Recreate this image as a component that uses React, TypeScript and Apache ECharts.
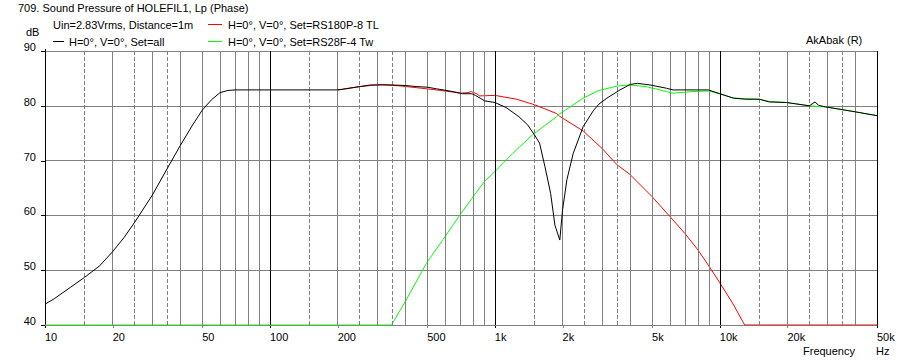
import React, { useEffect, useRef } from "react";
import * as echarts from "echarts";

// ---- data ----
const blackFreq = [10, 11, 12, 13, 15, 17.5, 20, 22.5, 25, 30, 35, 40, 45, 50, 55, 60, 65, 70, 80, 100, 150, 200, 210, 250, 280, 350, 400, 450, 500, 550, 650, 720, 790, 820, 860, 900, 1000, 1120, 1280, 1400, 1500, 1580, 1670, 1770, 1850, 1944, 2000, 2090, 2230, 2470, 2750, 2900, 3150, 3600, 4000, 4300, 4900, 5800, 6200, 8900, 10000, 11500, 13000, 15000, 16600, 19800, 25000, 26500, 27500, 29500, 35000, 40000, 50000];
const blackDb = [43.8, 44.8, 45.9, 46.9, 48.7, 50.8, 53.4, 56.0, 58.7, 63.7, 68.6, 72.8, 76.3, 79.2, 81.1, 82.4, 82.8, 82.9, 82.9, 82.9, 82.9, 82.9, 83.0, 83.5, 83.8, 83.8, 83.7, 83.5, 83.4, 83.1, 82.6, 82.2, 82.2, 81.9, 81.4, 80.9, 80.6, 79.7, 78.0, 76.5, 74.7, 73.2, 68.9, 64.0, 58.2, 55.5, 61.0, 66.5, 71.3, 76.2, 79.2, 80.3, 81.4, 82.9, 83.9, 84.1, 83.8, 83.2, 82.9, 82.9, 82.2, 81.4, 81.2, 81.2, 80.7, 80.6, 80.0, 80.7, 80.1, 79.8, 79.3, 78.9, 78.2];

const redFreq = [200, 250, 313, 385, 472, 551, 653, 700, 760, 785, 830, 857, 1000, 1250, 1500, 1880, 1940, 2470, 3000, 3500, 3980, 4980, 6000, 7000, 8000, 9000, 10000, 11400, 12900, 50000];
const redDb = [82.9, 83.5, 83.9, 83.6, 83.2, 82.9, 82.5, 82.3, 82.4, 82.6, 82.2, 81.8, 81.9, 81.2, 80.2, 78.6, 78.1, 75.4, 72.2, 69.2, 67.5, 63.5, 59.8, 56.7, 53.7, 50.6, 47.7, 44.0, 40.0, 40.0];

const greenFreq = [10, 347, 400, 497, 600, 700, 800, 900, 1000, 1200, 1470, 1550, 1880, 1940, 2470, 2900, 3500, 3980, 4700, 5800, 6200, 7600, 8900, 10000, 11500, 13000, 15000, 16600, 19800, 25000, 29500, 35000, 40000, 50000];
const greenDb = [40, 40, 44.3, 51.3, 56.1, 60.1, 63.4, 66.2, 68.0, 71.3, 74.7, 75.4, 78.0, 78.5, 81.4, 82.8, 83.6, 83.8, 83.5, 82.6, 82.3, 82.6, 82.7, 82.2, 81.4, 81.3, 81.2, 80.8, 80.6, 80.0, 79.8, 79.3, 78.9, 78.2];

const xTickValues = [10, 20, 50, 100, 200, 500, 1000, 2000, 5000, 10000, 20000, 50000];
const xTickLabels = ["10", "20", "50", "100", "200", "500", "1k", "2k", "5k", "10k", "20k", "50k"];
const yTickValues = [40, 50, 60, 70, 80, 90];
const yTickLabels = ["40", "50", "60", "70", "80", "90"];

const decades = [10, 100, 1000, 10000];
const solidMultipliers = [2, 3, 4, 5, 6, 7, 8, 9];
const dashedMultipliers = [1.5, 2.5, 3.5];

const X_MIN = 10;
const X_MAX = 50000;

const FONT = "Liberation Sans, Arial, sans-serif";
const GRAY = "#808080";

const zip = (f: number[], d: number[]) => f.map((v, i) => [v, d[i]]);

export default function App() {
  const ref = useRef<HTMLDivElement>(null);

  useEffect(() => {
    if (!ref.current) return;
    const chart = echarts.init(ref.current, null, { renderer: "svg" });

    const markData: any[] = [];
    decades.forEach((d) => {
      solidMultipliers.forEach((m) => {
        const v = d * m;
        if (v < X_MAX) markData.push({ xAxis: v, lineStyle: { color: GRAY, type: "solid", width: 1 } });
      });
      dashedMultipliers.forEach((m) => {
        const v = d * m;
        if (v < X_MAX) markData.push({ xAxis: v, lineStyle: { color: GRAY, type: [4, 2], width: 1 } });
      });
      if (d > X_MIN) markData.push({ xAxis: d, lineStyle: { color: "#000", type: "solid", width: 1 } });
    });
    markData.push({ xAxis: X_MAX, lineStyle: { color: "#000", type: "solid", width: 1 } });

    const option: any = {
      animation: false,
      backgroundColor: "#fff",
      grid: { left: 45, top: 51, width: 832, height: 274, containLabel: false },
      xAxis: {
        type: "log",
        logBase: 10,
        min: X_MIN,
        max: X_MAX,
        axisLine: { show: true, onZero: false, lineStyle: { color: GRAY, width: 1 } },
        axisTick: { show: false },
        axisLabel: { show: false },
        splitLine: { show: false },
      },
      yAxis: {
        type: "value",
        min: 40,
        max: 90,
        interval: 10,
        axisLine: { show: true, onZero: false, lineStyle: { color: "#000", width: 1 } },
        axisTick: { show: false },
        axisLabel: { show: false },
        splitLine: { show: true, lineStyle: { color: GRAY, width: 1 } },
      },
      series: [
        {
          type: "line",
          z: 1,
          data: [[X_MIN, 40]],
          showSymbol: false,
          lineStyle: { opacity: 0 },
          silent: true,
          markLine: {
            silent: true,
            symbol: ["none", "none"],
            label: { show: false },
            emphasis: { disabled: true },
            data: markData,
          },
        },
        {
          name: "RS180P-8 TL",
          type: "line",
          z: 3,
          data: zip(redFreq, redDb),
          showSymbol: false,
          lineStyle: { color: "#ff0000", width: 1 },
        },
        {
          name: "RS28F-4 Tw",
          type: "line",
          z: 4,
          data: zip(greenFreq, greenDb),
          showSymbol: false,
          lineStyle: { color: "#00ff00", width: 1 },
        },
        {
          name: "all",
          type: "line",
          z: 5,
          data: zip(blackFreq, blackDb),
          showSymbol: false,
          lineStyle: { color: "#000000", width: 1 },
        },
      ],
    };
    chart.setOption(option);

    const px = (v: number) => chart.convertToPixel({ xAxisIndex: 0 }, v) as number;
    const py = (v: number) => chart.convertToPixel({ yAxisIndex: 0 }, v) as number;
    const bottom = py(40);
    const left = px(X_MIN);

    const txt = (text: string, x: number, y: number, align = "left") => ({
      type: "text",
      x,
      y,
      silent: true,
      style: { text, fontSize: 11, fontFamily: FONT, fill: "#000", align, verticalAlign: "middle" },
    });
    const ln = (x1: number, y1: number, x2: number, y2: number, stroke: string) => ({
      type: "line",
      silent: true,
      shape: { x1, y1, x2, y2 },
      style: { stroke, lineWidth: 1 },
    });

    const graphics: any[] = [];
    graphics.push(txt("709. Sound Pressure of HOLEFIL1, Lp (Phase)", 18, 7.5));
    graphics.push(txt("Uin=2.83Vrms, Distance=1m", 53, 25));
    graphics.push(ln(53, 41.5, 64, 41.5, "#000"));
    graphics.push(txt("H=0°, V=0°, Set=all", 69, 41.5));
    graphics.push(ln(208, 24.5, 222, 24.5, "#ff0000"));
    graphics.push(txt("H=0°, V=0°, Set=RS180P-8 TL", 228, 25));
    graphics.push(ln(208, 41.5, 222, 41.5, "#00ff00"));
    graphics.push(txt("H=0°, V=0°, Set=RS28F-4 Tw", 228, 41.5));
    graphics.push(txt("dB", 26, 32));
    graphics.push(txt("AkAbak (R)", 806, 40));
    graphics.push(txt("Frequency", 803, 351));
    graphics.push(txt("Hz", 876, 351));

    xTickValues.forEach((v, i) => {
      const x = Math.round(px(v)) + 0.5;
      const isDecade = Math.abs(Math.log10(v) - Math.round(Math.log10(v))) < 1e-6 || v === X_MAX;
      graphics.push(ln(x, bottom, x, bottom + 3, isDecade ? "#000" : GRAY));
      graphics.push(txt(xTickLabels[i], px(v), bottom + 12));
    });
    yTickValues.forEach((v, i) => {
      const y = Math.round(py(v)) + 0.5;
      graphics.push(ln(left - 4, y, left, y, "#000"));
      graphics.push(txt(yTickLabels[i], 36, py(v) - 4, "right"));
    });
    graphics.push(ln(Math.round(left) + 0.5, py(90) - 2, Math.round(left) + 0.5, py(90), "#000"));

    chart.setOption({ graphic: graphics });

    return () => chart.dispose();
  }, []);

  return (
    <div
      ref={ref}
      style={{ position: "fixed", left: 0, top: 0, width: 899, height: 363, background: "#fff" }}
    />
  );
}
